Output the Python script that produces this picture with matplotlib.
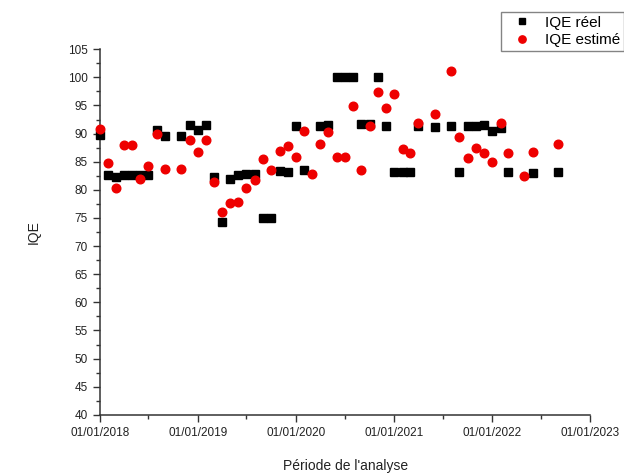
import numpy as np
import pandas as pd
import matplotlib
matplotlib.use("Agg")
import matplotlib.pyplot as plt
import matplotlib.dates as mdates
from matplotlib.ticker import MultipleLocator

plt.rcParams['font.family'] = ['Liberation Sans', 'DejaVu Sans']

# relevés mensuels à partir de janvier 2018 (nan = pas de mesure)
nan = np.nan
mois = pd.date_range('2018-01-01', periods=57, freq='MS')

iqe_reel = [89.7, 82.6, 82.3, 82.7, 82.7, 82.6, 82.6, 90.7, 89.6, nan,
            89.5, 91.5, 90.7, 91.6, 82.3, 74.2, 82.0, 82.6, 82.8, 82.9,
            75.0, 75.0, 83.4, 83.2, 91.4, 83.5, nan, 91.4, 91.5, 100.0,
            100.0, 100.0, 91.7, 91.7, 100.0, 91.4, 83.2, 83.2, 83.2, 91.3,
            nan, 91.2, nan, 91.4, 83.2, 91.4, 91.4, 91.6, 90.4, 91.0,
            83.2, nan, nan, 83.0, nan, nan, 83.1]

iqe_estime = [90.9, 84.8, 80.4, 87.9, 87.9, 82.0, 84.2, 90.0, 83.7, nan,
              83.7, 88.8, 86.7, 88.8, 81.4, 76.1, 77.6, 77.9, 80.4, 81.7,
              85.5, 83.6, 86.9, 87.8, 85.8, 90.4, 82.9, 88.1, 90.3, 85.8,
              85.8, 94.9, 83.6, 91.4, 97.4, 94.6, 97.0, 87.2, 86.5, 91.8,
              nan, 93.4, nan, 101.1, 89.4, 85.7, 87.4, 86.6, 85.0, 91.8,
              86.5, nan, 82.4, 86.8, nan, nan, 88.1]

fig = plt.figure(figsize=(6.24, 4.73), dpi=100)
ax = fig.add_axes([0.160, 0.123, 0.786, 0.773])

ax.plot(mois, iqe_reel, linestyle='none', marker='s', markersize=5.4,
        color='black', label='IQE réel', clip_on=False, zorder=3)
ax.plot(mois, iqe_estime, linestyle='none', marker='o', markersize=6.2,
        color='#ee0000', markeredgecolor='#ee0000', label='IQE estimé',
        clip_on=False, zorder=4)

ax.set_xlim(pd.Timestamp('2018-01-01'), pd.Timestamp('2023-01-01'))
ax.set_ylim(40, 105)

ax.xaxis.set_major_locator(mdates.YearLocator())
ax.xaxis.set_major_formatter(mdates.DateFormatter('%d/%m/%Y'))
ax.xaxis.set_minor_locator(mdates.MonthLocator(bymonth=7))
ax.yaxis.set_major_locator(MultipleLocator(5))
ax.yaxis.set_minor_locator(MultipleLocator(2.5))

for cote in ['top', 'right']:
    ax.spines[cote].set_visible(False)
for cote in ['left', 'bottom']:
    ax.spines[cote].set_linewidth(1.1)
    ax.spines[cote].set_color('#333333')

ax.tick_params(which='major', direction='out', length=5, width=1,
               labelsize=8.5, colors='#333333', labelcolor='#222222')
ax.tick_params(which='minor', direction='out', length=3, width=1,
               colors='#333333')

ax.set_xlabel("Période de l'analyse", fontsize=10, color='#222222', labelpad=15)
ax.set_ylabel('IQE', fontsize=10, color='#222222', labelpad=20)

# la légende déborde à droite de la figure
fig.legend(loc='upper left', bbox_to_anchor=(0.803, 0.975), fontsize=11,
           frameon=True, fancybox=False, edgecolor='#666666',
           borderaxespad=0, handletextpad=0.35, borderpad=0.25,
           labelspacing=0.25, handlelength=2.3, markerscale=0.85)

fig.savefig('out.png', dpi=100)
